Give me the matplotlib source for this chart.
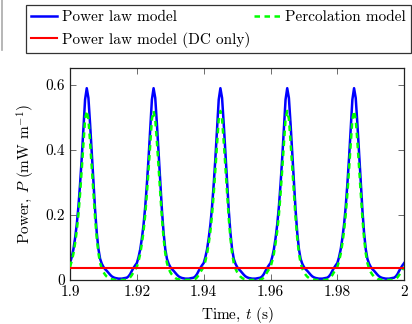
import numpy as np
import matplotlib
matplotlib.use("Agg")
import matplotlib.pyplot as plt
from matplotlib.lines import Line2D

plt.rcParams['font.family'] = 'serif'
plt.rcParams['font.serif'] = ['cmr10']
plt.rcParams['mathtext.fontset'] = 'cm'
plt.rcParams['axes.formatter.use_mathtext'] = True

# one period of the pulse, sampled every 0.5 ms, starting 5 ms before a peak
period = 0.02
first_peak = 1.905
offsets_ms = np.arange(-5.0, 15.0, 0.5)

power_law = [0.052, 0.070, 0.094, 0.128, 0.170, 0.225, 0.295, 0.375, 0.465, 0.555,
             0.590, 0.560, 0.480, 0.390, 0.300, 0.215, 0.145, 0.095, 0.065, 0.050,
             0.040, 0.033, 0.028, 0.022, 0.016, 0.011, 0.008, 0.006, 0.005, 0.004,
             0.004, 0.004, 0.005, 0.006, 0.007, 0.011, 0.018, 0.028, 0.037, 0.045]
percolation = [0.040, 0.058, 0.080, 0.112, 0.150, 0.200, 0.265, 0.340, 0.420, 0.495,
               0.520, 0.495, 0.425, 0.345, 0.265, 0.190, 0.128, 0.082, 0.052, 0.035,
               0.024, 0.016, 0.010, 0.006, 0.003, 0.002, 0.001, 0.000, 0.000, 0.000,
               0.000, 0.000, 0.000, 0.000, 0.001, 0.003, 0.008, 0.015, 0.024, 0.032]
dc_only = 0.037
n_periods = 5

xticks = [1.9, 1.92, 1.94, 1.96, 1.98, 2.0]
xticklabels = ['1.9', '1.92', '1.94', '1.96', '1.98', '2']
yticks = [0, 0.2, 0.4, 0.6]
yticklabels = ['0', '0.2', '0.4', '0.6']

t = np.concatenate([first_peak + k * period + offsets_ms / 1000 for k in range(n_periods)])
t = np.append(t, 2.0)
p_pl = np.append(np.tile(power_law, n_periods), power_law[0])
p_perc = np.append(np.tile(percolation, n_periods), percolation[0])

fig = plt.figure(figsize=(4.12, 3.24), dpi=100)
ax = fig.add_axes([0.170, 0.136, 0.811, 0.654])

l1, = ax.plot(t, p_pl, color='#0000ff', lw=1.8, label='Power law model', zorder=2)
l2, = ax.plot(t, p_perc, color='#00ff00', lw=1.8, ls=(0, (2.2, 1.8)),
              label='Percolation model', zorder=3)
l3, = ax.plot([1.9, 2.0], [dc_only, dc_only], color='#ff0000', lw=1.5,
              label='Power law model (DC only)', zorder=4)

ax.set_xlim(1.9, 2.0)
ax.set_ylim(0, 0.652)
ax.set_xticks(xticks)
ax.set_xticklabels(xticklabels)
ax.set_yticks(yticks)
ax.set_yticklabels(yticklabels)
ax.tick_params(direction='in', top=True, right=True, length=4, width=0.6,
               labelsize=11, color='#555555')
for s in ax.spines.values():
    s.set_linewidth(0.9)
    s.set_color('#222222')

ax.set_xlabel('Time, $t$ (s)', fontsize=11, labelpad=5)
ax.set_ylabel('Power, $P$ (mW m$^{-1}$)', fontsize=11, labelpad=6)

leg = fig.legend(handles=[l1, l3, l2], ncol=2, loc='upper left',
                 bbox_to_anchor=(26 / 412, 1 - 5 / 324), fontsize=11,
                 frameon=True, fancybox=False, edgecolor='black',
                 handlelength=1.7, handletextpad=0.33, columnspacing=0.2,
                 borderpad=0.35, labelspacing=0.5, borderaxespad=0)
leg.get_frame().set_linewidth(0.9)

fig.add_artist(Line2D([2 / 412, 2 / 412], [1 - 50 / 324, 1.0], color='#aaaaaa', lw=1.2))

fig.savefig('out.png', dpi=100)
